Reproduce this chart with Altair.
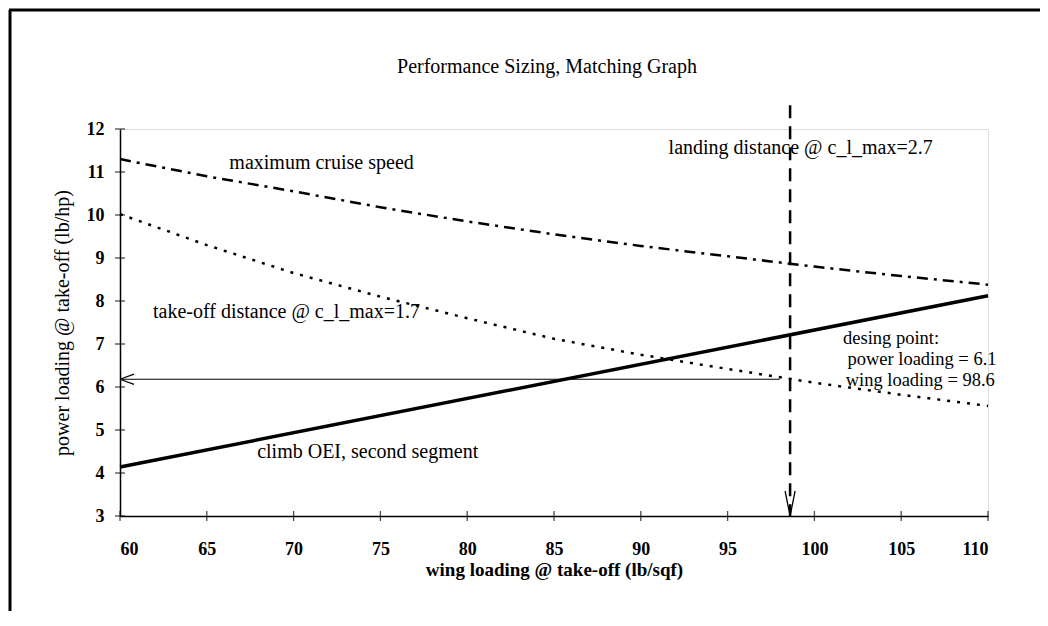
import altair as alt
import pandas as pd

# ---- data ----
wing_loading = [60, 65, 70, 75, 80, 85, 90, 95, 100, 105, 110]
cruise_speed = [11.3, 10.9, 10.55, 10.18, 9.85, 9.55, 9.28, 9.04, 8.8, 8.58, 8.38]
takeoff_dist = [10.02, 9.3, 8.65, 8.1, 7.6, 7.12, 6.75, 6.42, 6.1, 5.82, 5.56]
climb_x = [60, 110]
climb_y = [4.14, 8.12]

design_wing = 98.6
design_power = 6.18
arrow_start = 98.0
landing_top = 12.55

x_ticks = [60, 65, 70, 75, 80, 85, 90, 95, 100, 105, 110]
y_ticks = [3, 4, 5, 6, 7, 8, 9, 10, 11, 12]

chart_title = "Performance Sizing, Matching Graph"
ann_text = ["maximum cruise speed", "landing distance @ c_l_max=2.7",
            "take-off distance @ c_l_max=1.7", "climb OEI, second segment"]
ann_x = [66.3, 91.6, 61.9, 67.9]
ann_y = [11.21, 11.56, 7.74, 4.49]

design_text = ["desing point:", "power loading = 6.1", "wing loading = 98.6"]
design_x = [101.65, 101.9, 101.8]
design_y = [7.15, 6.66, 6.17]

FONT = "Liberation Serif"

curves = pd.DataFrame({"w": wing_loading, "cruise": cruise_speed, "takeoff": takeoff_dist})
climb = pd.DataFrame({"w": climb_x, "p": climb_y})
landing = pd.DataFrame({"w": [design_wing, design_wing], "p": [landing_top, 3]})
arrow = pd.DataFrame({"w": [arrow_start, 60], "p": [design_power, design_power]})
ann = pd.DataFrame({"t": ann_text, "x": ann_x, "y": ann_y})
dpt = pd.DataFrame({"t": design_text, "x": design_x, "y": design_y})
xt = pd.DataFrame({"v": x_ticks})
yt = pd.DataFrame({"v": y_ticks})
title_df = pd.DataFrame({"t": [chart_title]})

xs = alt.Scale(domain=[60, 110], nice=False, zero=False)
ys = alt.Scale(domain=[3, 12], nice=False, zero=False)

xaxis = alt.Axis(values=x_ticks, title="wing loading @ take-off (lb/sqf)", grid=False,
                 ticks=False, tickSize=0, labelPadding=24, domainColor="black",
                 domainWidth=1.5, labelFont=FONT, labelFontSize=18, labelFontWeight="bold",
                 labelColor="black", titleFont=FONT, titleFontSize=19, titleFontWeight="bold",
                 titleColor="black", titlePadding=2)
yaxis = alt.Axis(values=y_ticks, title="power loading @ take-off  (lb/hp)", grid=False,
                 ticks=False, tickSize=0, labelPadding=16, domainColor="black",
                 domainWidth=1.5, labelFont=FONT, labelFontSize=18, labelFontWeight="bold",
                 labelColor="black", titleFont=FONT, titleFontSize=20, titleFontWeight="normal",
                 titleColor="black", titlePadding=14)

base = alt.Chart(curves)

cruise_line = base.mark_line(color="black", strokeWidth=2.5, strokeDash=[11, 6, 3, 6]).encode(
    x=alt.X("w:Q", scale=xs, axis=xaxis),
    y=alt.Y("cruise:Q", scale=ys, axis=yaxis),
)
takeoff_line = base.mark_line(color="black", strokeWidth=2.5, strokeDash=[3, 7]).encode(
    x=alt.X("w:Q", scale=xs), y=alt.Y("takeoff:Q", scale=ys)
)
climb_line = alt.Chart(climb).mark_line(color="black", strokeWidth=3.5).encode(
    x=alt.X("w:Q", scale=xs), y=alt.Y("p:Q", scale=ys)
)
landing_line = alt.Chart(landing).mark_line(color="black", strokeWidth=2.5, strokeDash=[13, 8]).encode(
    x=alt.X("w:Q", scale=xs), y=alt.Y("p:Q", scale=ys)
)
arrow_line = alt.Chart(arrow).mark_line(color="black", strokeWidth=1.2).encode(
    x=alt.X("w:Q", scale=xs), y=alt.Y("p:Q", scale=ys)
)
left_head = alt.Chart(arrow.tail(1)).mark_point(
    shape="M0,0L2,-0.72M0,0L2,0.72", size=196, filled=False, color="black", strokeWidth=1.3, opacity=1
).encode(x=alt.X("w:Q", scale=xs), y=alt.Y("p:Q", scale=ys))
down_head = alt.Chart(landing.tail(1)).mark_point(
    shape="M0,0L-0.4,-2M0,0L0.4,-2", size=625, filled=False, color="black", strokeWidth=1.3, opacity=1
).encode(x=alt.X("w:Q", scale=xs), y=alt.Y("p:Q", scale=ys))

x_tick_marks = alt.Chart(xt).mark_tick(orient="vertical", size=10, thickness=1.3, color="black").encode(
    x=alt.X("v:Q", scale=xs), y=alt.value(387)
)
y_tick_marks = alt.Chart(yt).mark_tick(orient="horizontal", size=10, thickness=1.3, color="black").encode(
    y=alt.Y("v:Q", scale=ys), x=alt.value(0)
)

labels = alt.Chart(ann).mark_text(align="left", baseline="middle", font=FONT, fontSize=20,
                                  color="black").encode(
    x=alt.X("x:Q", scale=xs), y=alt.Y("y:Q", scale=ys), text="t:N"
)
design_labels = alt.Chart(dpt).mark_text(align="left", baseline="middle", font=FONT, fontSize=18.5,
                                         color="black").encode(
    x=alt.X("x:Q", scale=xs), y=alt.Y("y:Q", scale=ys), text="t:N"
)

title_mark = alt.Chart(title_df).mark_text(align="center", baseline="middle", font=FONT,
                                           fontSize=20, color="black").encode(
    x=alt.value(427), y=alt.value(-62), text="t:N"
)

frame_df = pd.DataFrame({"k": [0]})
frame_left = alt.Chart(frame_df).mark_rule(color="black", strokeWidth=3).encode(
    x=alt.value(-110), y=alt.value(-119), y2=alt.value(482)
)
frame_top = alt.Chart(frame_df).mark_rule(color="black", strokeWidth=3).encode(
    x=alt.value(-111), x2=alt.value(920), y=alt.value(-119)
)

chart = alt.layer(
    frame_left, frame_top, title_mark,
    cruise_line, takeoff_line, climb_line, landing_line, arrow_line,
    left_head, down_head, x_tick_marks, y_tick_marks, labels, design_labels,
).properties(
    width=868, height=387,
    autosize=alt.AutoSizeParams(type="none"),
    padding={"left": 112, "top": 121, "right": 52, "bottom": 95},
).configure_view(stroke=None).configure(background="white")

chart.save("out.html", embed_options={"renderer": "svg", "actions": False})
